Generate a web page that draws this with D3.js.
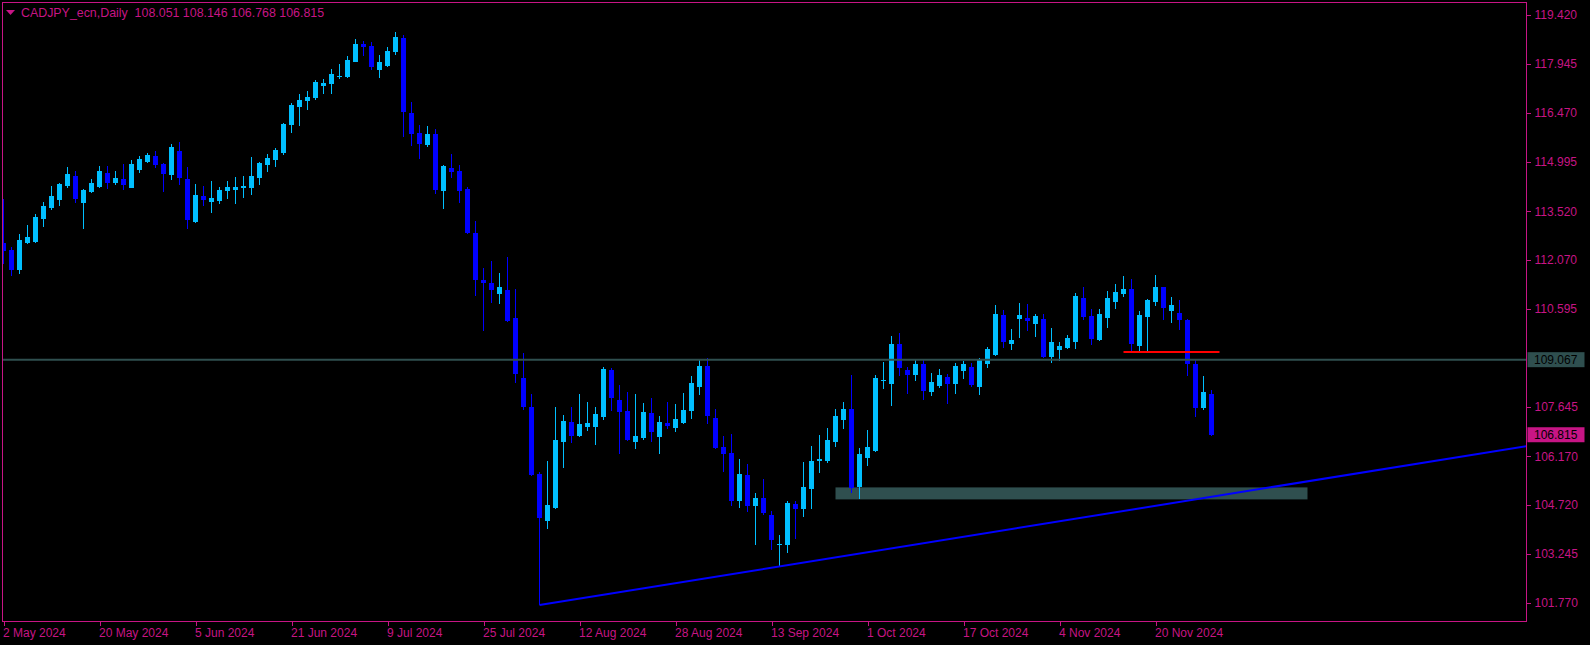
<!DOCTYPE html>
<html>
<head>
<meta charset="utf-8">
<script src="https://cdn.jsdelivr.net/npm/d3@7"></script>
<style>
  html, body { margin: 0; padding: 0; background: #000; }
  svg { display: block; }
  text { font-family: "Liberation Sans", Arial, sans-serif; font-size: 12px; }
</style>
</head>
<body>
<svg id="chart" width="1590" height="645"></svg>
<script>
// ---------------- DATA ----------------
const symbolTitle = "CADJPY_ecn,Daily";
const lastQuote = ["108.051", "108.146", "106.768", "106.815"];

// trading days (weekdays) from 2 May 2024 to 29 Nov 2024
const dates = d3.timeDay.range(new Date(2024, 4, 2), new Date(2024, 10, 30))
  .filter(d => d.getDay() !== 0 && d.getDay() !== 6);

const open = [
112.56,112.35,111.76,112.57,112.60,113.29,113.62,113.86,114.28,114.57,
113.77,114.10,114.25,114.66,114.37,114.48,114.22,114.76,115.00,115.17,
114.93,114.61,115.32,114.48,113.20,113.97,113.80,113.83,114.13,114.16,
114.22,114.22,114.52,114.91,115.06,115.26,116.11,116.65,116.83,116.91,
117.28,117.33,117.55,117.54,118.00,118.53,118.47,117.76,117.87,118.29,
118.71,116.46,115.88,115.50,115.83,114.12,114.81,114.72,114.18,112.86,
111.45,111.36,111.05,111.15,110.31,108.505,107.635,105.625,104.215,104.605,
106.585,107.185,106.765,107.035,107.035,107.335,108.745,107.845,107.515,106.585,
106.705,107.455,106.735,107.155,107.005,107.155,107.515,108.235,108.865,107.305,
106.435,106.255,104.815,105.595,104.665,104.905,104.395,103.515,103.495,104.725,
104.575,105.175,106.015,106.015,106.585,107.245,107.575,105.235,106.105,106.315,
108.435,108.325,109.525,108.745,108.595,108.925,108.085,108.265,108.535,108.325,
108.715,108.835,108.235,108.925,109.195,110.395,109.525,110.275,110.305,110.125,
110.275,109.135,109.345,109.405,109.585,110.905,110.365,109.645,110.305,110.785,
111.025,111.175,109.465,110.335,110.785,111.235,110.515,110.455,110.245,108.925,
107.605,108.051];
const high = [
113.88,112.46,112.83,113.10,113.45,113.79,114.27,114.36,114.84,114.74,
114.18,114.48,114.87,114.87,114.72,114.93,115.05,115.17,115.26,115.32,
114.96,115.53,115.60,114.84,114.33,114.27,114.42,114.24,114.42,114.54,
114.57,115.14,114.99,115.23,115.41,116.18,116.76,117.03,117.12,117.46,
117.48,117.78,117.93,118.17,118.68,118.62,118.60,118.20,118.44,118.89,
118.80,116.79,116.10,116.07,115.98,114.90,115.23,114.90,114.24,113.22,
111.81,112.02,111.66,112.14,111.18,109.255,108.025,105.685,106.015,107.635,
107.395,107.635,108.025,107.785,107.635,108.835,108.805,108.295,108.085,108.025,
107.755,107.905,107.365,107.785,107.725,108.055,108.565,109.075,109.105,107.575,
106.765,106.825,106.075,105.925,105.055,105.475,104.515,103.795,104.815,104.815,
105.985,106.465,106.795,107.020,107.575,107.785,108.595,106.405,106.945,108.595,
108.985,109.765,109.855,108.835,109.075,109.075,108.655,108.775,108.625,108.955,
109.015,108.955,109.105,109.435,110.695,110.545,109.975,110.755,110.725,110.425,
110.425,110.005,109.585,109.795,111.055,111.235,110.575,110.575,111.115,111.325,
111.565,111.475,110.515,110.875,111.595,111.255,110.935,110.845,110.275,109.075,
108.565,108.146];
const low = [
111.93,111.58,111.63,112.54,112.57,113.05,113.56,113.68,114.22,113.77,
112.99,114.07,114.22,114.19,114.31,114.16,114.22,114.67,114.97,114.82,
114.10,114.46,114.31,112.99,113.17,113.68,113.47,113.74,113.89,113.74,
113.92,114.01,114.31,114.70,114.85,115.21,115.86,116.08,116.56,116.86,
117.03,117.03,117.48,117.51,118.00,118.18,117.76,117.52,117.85,118.21,
115.76,115.47,115.08,115.44,114.03,113.58,114.51,113.76,112.83,110.97,
109.92,110.76,110.73,110.20,108.355,107.545,105.585,101.705,103.975,104.585,
105.805,106.555,106.735,106.915,106.495,107.245,107.515,106.225,106.615,106.375,
106.645,106.585,106.225,106.975,106.885,107.135,107.275,107.995,107.125,106.375,
105.685,104.665,104.605,104.485,103.495,104.395,103.345,102.865,103.255,103.675,
104.335,104.575,105.655,105.955,106.435,106.975,105.055,104.875,105.865,106.285,
108.175,107.665,108.565,108.025,108.415,107.845,107.965,108.205,107.725,108.025,
108.475,108.235,107.995,108.805,109.165,109.405,109.345,109.705,109.915,109.735,
109.105,108.955,109.015,109.385,109.375,110.245,109.495,109.625,110.005,110.575,
110.935,109.315,109.315,109.315,110.665,110.245,110.155,109.945,108.565,107.335,
107.545,106.768];
const close = [
112.33,111.76,112.65,112.74,113.34,113.67,113.97,114.33,114.63,113.89,
114.15,114.36,114.72,114.37,114.51,114.31,114.93,115.08,115.20,114.91,
114.64,115.44,114.52,113.26,114.00,113.86,113.91,114.15,114.24,114.24,
114.27,114.57,114.96,115.11,115.35,116.13,116.70,116.85,116.95,117.39,
117.36,117.63,117.57,118.05,118.53,118.45,117.85,118.00,118.32,118.74,
116.50,115.83,115.53,115.83,114.15,114.87,114.69,114.12,112.86,111.45,
111.36,111.15,111.24,110.22,108.625,107.635,105.605,104.305,104.695,106.645,
107.215,106.765,107.125,107.155,107.425,108.775,107.905,107.485,106.645,106.765,
107.485,106.885,107.185,107.065,107.275,107.545,108.355,108.865,107.365,106.405,
106.225,104.815,105.625,104.665,104.905,104.455,103.645,103.525,104.755,104.575,
105.235,106.015,106.075,106.645,107.365,107.575,105.205,106.225,106.435,108.505,
108.445,109.525,108.805,108.595,108.925,108.115,108.385,108.595,108.325,108.865,
108.925,108.295,109.075,109.375,110.425,109.585,109.645,110.395,110.215,110.365,
109.135,109.585,109.465,109.705,110.965,110.335,109.675,110.425,110.905,111.085,
111.175,109.525,110.395,110.845,111.235,110.605,110.695,110.245,108.925,107.605,
108.085,106.815];

// axis labels
const priceTicks = [119.420, 117.945, 116.470, 114.995, 113.520, 112.070, 110.595, 107.645, 106.170, 104.720, 103.245, 101.770];
const dateTickIndex = [0, 12, 24, 36, 48, 60, 72, 84, 96, 108, 120, 132, 144];
const dateTickLabels = ["2 May 2024", "20 May 2024", "5 Jun 2024", "21 Jun 2024", "9 Jul 2024", "25 Jul 2024",
  "12 Aug 2024", "28 Aug 2024", "13 Sep 2024", "1 Oct 2024", "17 Oct 2024", "4 Nov 2024", "20 Nov 2024"];

// drawn objects
const hLinePrice = 109.067;
const zoneBars = [104, 163];
const zonePrices = [104.875, 105.235];
const redLineBars = [140, 152];
const redLinePrice = 109.295;
const trendBars = [67, 97];
const trendPrices = [101.705, 102.865];

// ---------------- CHART ----------------
const svg = d3.select("#chart");
const AXIS = "#C71585", BULL = "#00BFFF", BEAR = "#0000FF", SLATE = "#2F4F4F";
const L = 2.5, T = 2.5, R = 1526.5, B = 621.5;

const x = d3.scaleLinear().domain([0, dates.length - 1]).range([3.5, 3.5 + 8 * (dates.length - 1)]);
const y = d3.scaleLinear().domain([101.77, 119.42]).range([602.9, 14.6]);

svg.append("rect").attr("width", 1590).attr("height", 645).attr("fill", "#000");

svg.append("defs").append("clipPath").attr("id", "plot")
  .append("rect").attr("x", L + 0.5).attr("y", T + 0.5).attr("width", R - L - 1).attr("height", B - T - 1);

const plot = svg.append("g").attr("clip-path", "url(#plot)");

// zone rectangle (background)
plot.append("rect")
  .attr("x", x(zoneBars[0])).attr("width", x(zoneBars[1]) - x(zoneBars[0]))
  .attr("y", y(zonePrices[1])).attr("height", y(zonePrices[0]) - y(zonePrices[1]))
  .attr("fill", SLATE);

// candles
const idx = d3.range(dates.length);
const cg = plot.append("g").attr("shape-rendering", "crispEdges");
cg.selectAll("line.wick").data(idx).join("line")
  .attr("x1", i => Math.floor(x(i)) + 0.5).attr("x2", i => Math.floor(x(i)) + 0.5)
  .attr("y1", i => y(high[i])).attr("y2", i => y(low[i]))
  .attr("stroke", i => close[i] >= open[i] ? BULL : BEAR).attr("stroke-width", 1);
cg.selectAll("rect.body").data(idx).join("rect")
  .attr("x", i => Math.floor(x(i)) - 2).attr("width", 5)
  .attr("y", i => y(Math.max(open[i], close[i])))
  .attr("height", i => Math.max(1, Math.abs(y(open[i]) - y(close[i]))))
  .attr("fill", i => close[i] >= open[i] ? BULL : BEAR);

// horizontal level
plot.append("line")
  .attr("x1", L).attr("x2", R).attr("y1", y(hLinePrice)).attr("y2", y(hLinePrice))
  .attr("stroke", SLATE).attr("stroke-width", 2);

// red line
plot.append("line")
  .attr("x1", x(redLineBars[0])).attr("x2", x(redLineBars[1]))
  .attr("y1", y(redLinePrice)).attr("y2", y(redLinePrice))
  .attr("stroke", "#FF0000").attr("stroke-width", 2);

// trend line (ray)
const slope = (trendPrices[1] - trendPrices[0]) / (trendBars[1] - trendBars[0]);
const endBar = x.invert(R);
plot.append("line")
  .attr("x1", x(trendBars[0])).attr("y1", y(trendPrices[0]))
  .attr("x2", x(endBar)).attr("y2", y(trendPrices[0] + slope * (endBar - trendBars[0])))
  .attr("stroke", BEAR).attr("stroke-width", 2);

// border
svg.append("rect").attr("x", L).attr("y", T).attr("width", R - L).attr("height", B - T)
  .attr("fill", "none").attr("stroke", AXIS).attr("stroke-width", 1).attr("shape-rendering", "crispEdges");

// right price axis
const yAxis = d3.axisRight(y).tickValues(priceTicks).tickFormat(d3.format(".3f")).tickSize(4).tickPadding(4);
const ya = svg.append("g").attr("transform", `translate(${R},0)`).call(yAxis);
ya.select(".domain").remove();
ya.selectAll("line").attr("stroke", AXIS).attr("shape-rendering", "crispEdges");
ya.selectAll("text").attr("fill", AXIS).style("font-size", "12px").style("font-family", '"Liberation Sans", Arial, sans-serif');

// price label boxes
function priceBox(p, bg) {
  const g = svg.append("g");
  g.append("rect").attr("x", R + 1).attr("y", y(p) - 7.5).attr("width", 57).attr("height", 15).attr("fill", bg);
  g.append("text").attr("x", R + 7.5).attr("y", y(p)).attr("dy", "0.35em").attr("fill", "#000")
    .text(d3.format(".3f")(p));
}
priceBox(hLinePrice, SLATE);
priceBox(close[close.length - 1], AXIS);

// bottom date axis
const xAxis = d3.axisBottom(x).tickValues(dateTickIndex).tickFormat((d, k) => dateTickLabels[k]).tickSize(4).tickPadding(3);
const xa = svg.append("g").attr("transform", `translate(0,${B})`).call(xAxis);
xa.select(".domain").remove();
xa.selectAll("line").attr("stroke", AXIS).attr("shape-rendering", "crispEdges");
xa.selectAll("text").attr("fill", AXIS).attr("text-anchor", "start").attr("x", -1)
  .style("font-size", "12px").style("font-family", '"Liberation Sans", Arial, sans-serif');

// title
svg.append("path").attr("d", "M6,10 L15,10 L10.5,15 Z").attr("fill", AXIS);
svg.append("text").attr("x", 21).attr("y", 16.5).attr("fill", AXIS).style("white-space", "pre")
  .style("font-size", "12.4px")
  .text(symbolTitle + "  " + lastQuote.join(" "));
</script>
</body>
</html>
